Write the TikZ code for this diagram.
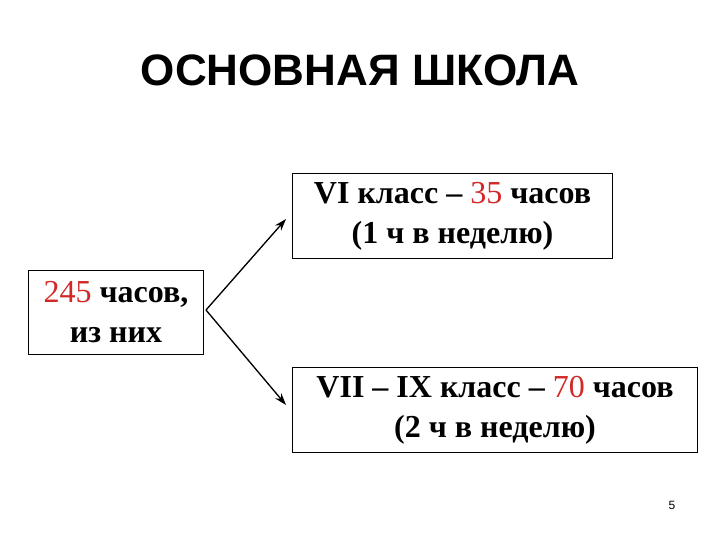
\documentclass[tikz,border=0pt]{standalone}
\usepackage{fontspec}
\usetikzlibrary{arrows.meta}
\setmainfont{Liberation Serif}
\newfontfamily\titlefont{Liberation Sans}
\definecolor{numred}{RGB}{210,40,40}
\newcommand{\rn}[1]{{\mdseries\color{numred}#1}}
\begin{document}
\begin{tikzpicture}[x=0.75pt,y=-0.75pt,
  box/.style={draw,line width=0.8pt,inner sep=0pt,anchor=north west},
  txt/.style={align=center,font=\fontsize{24}{30}\selectfont\bfseries},
  arr/.style={-{Stealth[length=9pt,width=6pt]},line width=1pt}]
\useasboundingbox (0,0) rectangle (720,540);
\node[font=\titlefont\bfseries\fontsize{33}{38}\selectfont] (title) at (360,70) {ОСНОВНАЯ ШКОЛА};
\node[box,minimum width=175*0.75pt,minimum height=84*0.75pt] (L) at (28,270) {};
\node[box,minimum width=320*0.75pt,minimum height=85*0.75pt] (T) at (292,173) {};
\node[box,minimum width=405*0.75pt,minimum height=85*0.75pt] (B) at (292,367) {};
\node[txt] (Lt) at (L.center) {\rn{245} часов,\\из них};
\node[txt] (Tt) at (T.center) {VI класс – \rn{35} часов\\(1 ч в неделю)};
\node[txt] (Bt) at (B.center) {VII – IX класс – \rn{70} часов\\(2 ч в неделю)};
\coordinate (o) at (206,310);
\coordinate (t1) at (286,219);
\coordinate (t2) at (286,405);
\draw[arr] (o) -- (t1);
\draw[arr] (o) -- (t2);
\node[font=\titlefont\fontsize{9}{10}\selectfont] (pg) at (672,505) {5};
\end{tikzpicture}
\end{document}
